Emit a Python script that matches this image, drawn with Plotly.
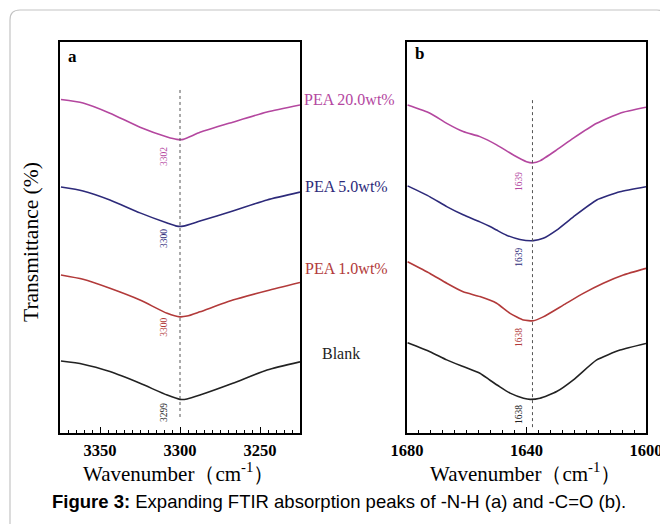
import plotly.graph_objects as go

W, H = 668, 524
OFF = 8  # page body margin offset

# ---------------- data ----------------
# Panel a : -N-H region
wn_a = [3374.4, 3360.6, 3343.8, 3325.0, 3308.0, 3302.0, 3298.0, 3287.5, 3267.0, 3245.6, 3225.0]
a_pea20 = [85.3, 84.4, 81.8, 78.2, 75.7, 75.1, 75.1, 76.9, 79.5, 82.1, 83.9]
a_pea5 = [62.9, 61.9, 59.6, 56.3, 53.7, 52.9, 52.9, 54.2, 56.8, 59.6, 61.6]
wn_a_low = [3374.4, 3360.6, 3343.8, 3325.0, 3308.0, 3300.0, 3295.6, 3287.5, 3267.0, 3245.6, 3225.0]
a_pea1 = [40.4, 39.3, 37.0, 34.0, 30.6, 29.7, 29.9, 31.0, 34.0, 36.4, 38.5]
a_blank = [18.4, 17.6, 15.7, 12.7, 9.7, 8.6, 8.7, 9.7, 12.7, 16.1, 18.2]

# Panel b : -C=O region
wn_b_pea20 = [1679.8, 1672.3, 1666.7, 1661.2, 1655.6, 1650.0, 1644.4, 1640.0, 1637.7, 1635.5, 1629.9, 1624.3, 1616.5, 1608.7, 1600.0]
b_pea20 = [83.9, 81.8, 79.2, 77.1, 75.8, 73.7, 71.1, 69.4, 69.1, 69.6, 72.4, 75.4, 79.2, 81.8, 83.3]
wn_b_pea5 = [1679.8, 1672.3, 1666.7, 1661.2, 1655.6, 1652.2, 1650.0, 1646.7, 1642.2, 1637.7, 1634.4, 1629.9, 1624.3, 1616.5, 1608.7, 1600.0]
b_pea5 = [63.2, 60.4, 57.9, 55.8, 54.0, 52.8, 51.9, 50.6, 49.5, 49.2, 49.8, 51.9, 55.3, 59.6, 61.7, 63.0]
wn_b_pea1 = [1679.8, 1672.3, 1666.7, 1661.2, 1655.6, 1650.0, 1645.5, 1641.0, 1637.7, 1634.4, 1627.7, 1621.0, 1614.3, 1607.6, 1600.0]
b_pea1 = [43.8, 40.8, 38.3, 36.1, 34.9, 33.2, 30.6, 28.9, 28.7, 29.7, 32.7, 35.7, 38.3, 40.4, 42.1]
wn_b_blank = [1679.8, 1672.3, 1666.7, 1661.2, 1655.6, 1652.2, 1648.9, 1645.5, 1641.0, 1638.8, 1635.5, 1629.9, 1624.3, 1616.5, 1608.7, 1600.0]
b_blank = [23.1, 20.8, 18.7, 17.0, 15.3, 13.5, 11.8, 10.2, 8.9, 8.6, 8.9, 10.6, 13.6, 18.7, 21.2, 22.9]

# peak marker lines
peak_a = 3300
peak_b = 1638
peak_line_a_y = [4.1, 88.2]
peak_line_b_y = [1.5, 85.7]

# peak labels
peak_labels_a = ["3302", "3300", "3300", "3299"]
peak_labels_a_y = [70.6, 49.6, 26.9, 5.1]
peak_labels_b = ["1639", "1639", "1638", "1638"]
peak_labels_b_y = [64.2, 44.8, 24.3, 4.6]

series_names = ["PEA 20.0wt%", "PEA 5.0wt%", "PEA 1.0wt%", "Blank"]
colors = ["#b4479f", "#2d2a7a", "#b23a3a", "#222222"]

# ---------------- figure ----------------
SERIF = "Times New Roman, Liberation Serif, DejaVu Serif, serif"


def px(x):
    return (x - OFF) / W


def py(y):
    return 1 - (y - OFF) / H


fig = go.Figure()

a_sets = [(wn_a, a_pea20), (wn_a, a_pea5), (wn_a_low, a_pea1), (wn_a_low, a_blank)]
b_sets = [(wn_b_pea20, b_pea20), (wn_b_pea5, b_pea5), (wn_b_pea1, b_pea1), (wn_b_blank, b_blank)]

for (xs, ys), c, n in zip(a_sets, colors, series_names):
    fig.add_trace(go.Scatter(x=xs, y=ys, mode="lines", name=n, xaxis="x", yaxis="y",
                             line=dict(color=c, width=1.6, shape="spline", smoothing=0.6),
                             showlegend=False))
for (xs, ys), c, n in zip(b_sets, colors, series_names):
    fig.add_trace(go.Scatter(x=xs, y=ys, mode="lines", name=n, xaxis="x2", yaxis="y2",
                             line=dict(color=c, width=1.6, shape="spline", smoothing=0.5),
                             showlegend=False))

fig.add_trace(go.Scatter(x=[peak_a, peak_a], y=peak_line_a_y, mode="lines", xaxis="x", yaxis="y",
                         line=dict(color="#555555", width=1, dash="dot"), showlegend=False))
fig.add_trace(go.Scatter(x=[peak_b, peak_b], y=peak_line_b_y, mode="lines", xaxis="x2", yaxis="y2",
                         line=dict(color="#555555", width=1, dash="dot"), showlegend=False))

annotations = []
for t, yv, c in zip(peak_labels_a, peak_labels_a_y, colors):
    annotations.append(dict(x=3310, y=yv, xref="x", yref="y", text=t, showarrow=False,
                            textangle=-90, xanchor="center", yanchor="middle",
                            font=dict(family=SERIF, size=9.5, color=c)))
for t, yv, c in zip(peak_labels_b, peak_labels_b_y, colors):
    annotations.append(dict(x=1642.5, y=yv, xref="x2", yref="y2", text=t, showarrow=False,
                            textangle=-90, xanchor="center", yanchor="middle",
                            font=dict(family=SERIF, size=9.5, color=c)))

# series labels between panels
label_pos = [(302, 100, "left"), (303, 187, "left"), (303, 268, "left"), (341, 353, "center")]
for (lx, ly, al), t, c in zip(label_pos, series_names, colors):
    annotations.append(dict(x=px(lx), y=py(ly), xref="paper", yref="paper", text=t, showarrow=False,
                            xanchor=al, yanchor="middle", font=dict(family=SERIF, size=16, color=c)))

# panel letters
annotations.append(dict(x=px(66), y=py(56), xref="paper", yref="paper", text="<b>a</b>", showarrow=False,
                        xanchor="left", yanchor="middle", font=dict(family=SERIF, size=17, color="black")))
annotations.append(dict(x=px(413), y=py(53), xref="paper", yref="paper", text="<b>b</b>", showarrow=False,
                        xanchor="left", yanchor="middle", font=dict(family=SERIF, size=17, color="black")))

# axis titles
annotations.append(dict(x=px(31), y=py(242), xref="paper", yref="paper", text="Transmittance (%)",
                        showarrow=False, textangle=-90, xanchor="center", yanchor="middle",
                        font=dict(family=SERIF, size=21.5, color="black")))
for cx in (178, 525):
    annotations.append(dict(x=px(cx), y=py(472), xref="paper", yref="paper",
                            text="Wavenumber（cm<sup>-1</sup>）", showarrow=False,
                            xanchor="center", yanchor="middle",
                            font=dict(family=SERIF, size=21, color="black")))

# caption
annotations.append(dict(x=px(339), y=py(501), xref="paper", yref="paper",
                        text="<b>Figure 3:</b> Expanding FTIR absorption peaks of -N-H (a) and -C=O (b).",
                        showarrow=False, xanchor="center", yanchor="middle",
                        font=dict(family="Arial, Liberation Sans, sans-serif", size=18.5, color="black")))


# card border (rounded)
def P(x, y):
    return f"{px(x):.5f},{py(y):.5f}"


card_path = (f"M {P(10, 560)} L {P(10, 20)} Q {P(10, 10)} {P(20, 10)} "
             f"L {P(657, 10)} Q {P(667, 10)} {P(667, 20)} L {P(667, 560)}")

xcommon = dict(showline=True, mirror=True, linecolor="black", linewidth=1.5,
               ticks="inside", ticklen=6, tickwidth=1.2, tickcolor="black",
               showgrid=False, zeroline=False, automargin=False, tickmode="linear",
               tickprefix="<b>", ticksuffix="</b>", ticklabelstandoff=1,
               tickfont=dict(family=SERIF, size=16.5, color="black", weight="bold"))
ycommon = dict(showline=True, mirror=True, linecolor="black", linewidth=1.5, automargin=False,
               showticklabels=False, ticks="", showgrid=False, zeroline=False, range=[0, 100])

fig.update_layout(
    width=W, height=H,
    margin=dict(l=0, r=0, t=0, b=0, autoexpand=False),
    paper_bgcolor="white", plot_bgcolor="white",
    xaxis=dict(domain=[px(60), px(300)], range=[3375, 3225], tick0=3250, dtick=50,
               minor=dict(dtick=5, tick0=3250, ticks="inside", ticklen=3.5, tickwidth=1, tickcolor="black"),
               anchor="y", **xcommon),
    yaxis=dict(domain=[py(433), py(42)], anchor="x", **ycommon),
    xaxis2=dict(domain=[px(407), px(646)], range=[1680, 1600], tick0=1600, dtick=40,
                minor=dict(dtick=4, tick0=1600, ticks="inside", ticklen=3.5, tickwidth=1, tickcolor="black"),
                anchor="y2", **xcommon),
    yaxis2=dict(domain=[py(433), py(42)], anchor="x2", **ycommon),
    annotations=annotations,
    shapes=[dict(type="path", path=card_path, xref="paper", yref="paper",
                 line=dict(color="#c4c4c4", width=1.2), layer="below")],
)

fig.write_html("out.html")
